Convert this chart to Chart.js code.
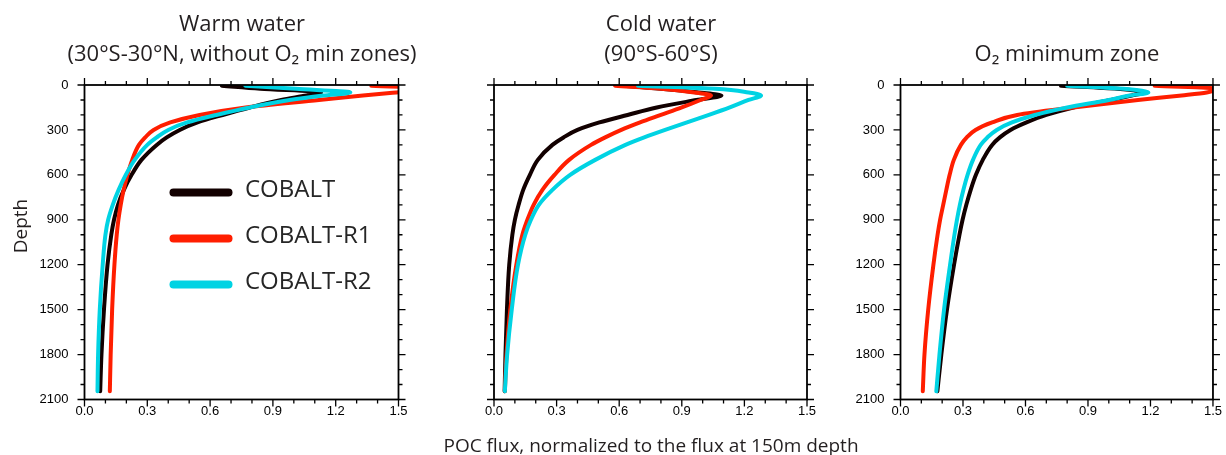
<!DOCTYPE html>
<html>
<head>
<meta charset="utf-8">
<script src="https://cdn.jsdelivr.net/npm/chart.js@4.4.0/dist/chart.umd.min.js"></script>
<style>
html,body{margin:0;padding:0;background:#fff;width:1226px;height:455px;overflow:hidden;}
canvas{position:absolute;top:0;display:block;}
</style>
</head>
<body>
<canvas id="c1" width="440" height="455" style="left:0px"></canvas>
<canvas id="c2" width="440" height="455" style="left:430px"></canvas>
<canvas id="c3" width="396" height="455" style="left:830px"></canvas>
<script>
// ---------- data ----------
const depths = [5, 25, 50, 70, 100, 150, 200, 250, 300, 350, 400, 500, 600, 700, 800, 900, 1000, 1200, 1500, 1800, 2045];

const seriesNames = ['COBALT', 'COBALT-R1', 'COBALT-R2'];

const warmCOBALT = [0.656, 0.84, 1.13, 1.06, 0.94, 0.79, 0.66, 0.54, 0.455, 0.393, 0.345, 0.272, 0.225, 0.188, 0.16, 0.141, 0.128, 0.11, 0.093, 0.081, 0.075];
const warmR1     = [1.37, 1.70, 1.49, 1.33, 1.12, 0.77, 0.55, 0.41, 0.33, 0.29, 0.26, 0.228, 0.205, 0.187, 0.173, 0.162, 0.154, 0.143, 0.132, 0.125, 0.121];
const warmR2     = [0.768, 1.01, 1.27, 1.14, 0.98, 0.79, 0.63, 0.49, 0.40, 0.345, 0.30, 0.24, 0.197, 0.163, 0.135, 0.113, 0.100, 0.087, 0.073, 0.065, 0.062];

const coldCOBALT = [0.62, 0.80, 0.98, 1.09, 0.97, 0.78, 0.64, 0.505, 0.40, 0.333, 0.28, 0.21, 0.172, 0.14, 0.118, 0.10, 0.088, 0.073, 0.062, 0.055, 0.051];
const coldR1     = [0.58, 0.80, 0.96, 1.04, 0.99, 0.90, 0.80, 0.70, 0.61, 0.533, 0.465, 0.36, 0.29, 0.232, 0.19, 0.16, 0.136, 0.107, 0.078, 0.06, 0.052];
const coldR2     = [0.69, 1.06, 1.22, 1.28, 1.22, 1.13, 1.03, 0.925, 0.82, 0.72, 0.63, 0.485, 0.365, 0.28, 0.215, 0.177, 0.15, 0.115, 0.085, 0.063, 0.052];

const omzCOBALT  = [0.77, 1.04, 1.17, 1.11, 1.01, 0.83, 0.70, 0.605, 0.528, 0.477, 0.44, 0.395, 0.362, 0.337, 0.316, 0.298, 0.283, 0.257, 0.223, 0.196, 0.177];
const omzR1      = [1.22, 1.52, 1.47, 1.35, 1.14, 0.83, 0.56, 0.44, 0.36, 0.318, 0.29, 0.256, 0.236, 0.22, 0.205, 0.19, 0.178, 0.158, 0.133, 0.115, 0.107];
const omzR2      = [0.80, 1.07, 1.19, 1.10, 1.00, 0.80, 0.645, 0.535, 0.462, 0.417, 0.385, 0.348, 0.322, 0.302, 0.285, 0.271, 0.259, 0.238, 0.209, 0.187, 0.172];

const xTickValues = [0, 0.3, 0.6, 0.9, 1.2, 1.5];
const yTickValues = [0, 300, 600, 900, 1200, 1500, 1800, 2100];

const panelTitles = [
  ['Warm water', '(30°S-30°N, without O\u2082 min zones)'],
  ['Cold water', '(90°S-60°S)'],
  ['', 'O\u2082 minimum zone']
];
const xAxisTitle = 'POC flux, normalized to the flux at 150m depth';
const yAxisTitle = 'Depth';

// ---------- styles ----------
const COLORS = ['#120000', '#ff1e00', '#00d3e3'];
const DRAW_ORDER = [3, 2, 1];
const TEXT_FONT = '"Open Sans", "Noto Sans", "DejaVu Sans", sans-serif';
const TICK_FONT = '"Liberation Sans", Arial, Helvetica, sans-serif';
const TEXT_COLOR = '#231f20';
const PLOT_TOP = 85, PLOT_BOTTOM = 399.5, CANVAS_H = 455;

const panels = [
  {id: 'c1', left: 0,   width: 440, plotLeft: 84.5,  plotRight: 398.5, yLabels: true,  values: [warmCOBALT, warmR1, warmR2], titleX: 242},
  {id: 'c2', left: 430, width: 440, plotLeft: 494,   plotRight: 807,   yLabels: false, values: [coldCOBALT, coldR1, coldR2], titleX: 661},
  {id: 'c3', left: 830, width: 396, plotLeft: 900.5, plotRight: 1214,  yLabels: true,  values: [omzCOBALT, omzR1, omzR2],   titleX: 1067}
];

// frame with outward major/minor ticks on all four sides
const frameTicks = {
  id: 'frameTicks',
  afterDatasetsDraw(chart) {
    const {ctx, chartArea: a} = chart;
    const xs = chart.scales.x, ys = chart.scales.y;
    ctx.save();
    ctx.strokeStyle = '#000';
    ctx.lineWidth = 1.8;
    ctx.strokeRect(a.left, a.top, a.right - a.left, a.bottom - a.top);
    ctx.lineWidth = 1.3;
    ctx.beginPath();
    for (let i = 0; i <= 15; i++) {
      const px = xs.getPixelForValue(i / 10);
      const L = (i % 3 === 0) ? 7 : 4;
      ctx.moveTo(px, a.bottom); ctx.lineTo(px, a.bottom + L);
      ctx.moveTo(px, a.top); ctx.lineTo(px, a.top - L);
    }
    for (let d = 0; d <= 2100; d += 100) {
      const py = ys.getPixelForValue(d);
      const L = (d % 300 === 0) ? 7 : 4;
      ctx.moveTo(a.left, py); ctx.lineTo(a.left - L, py);
      ctx.moveTo(a.right, py); ctx.lineTo(a.right + L, py);
    }
    ctx.stroke();
    ctx.restore();
  }
};

function textPlugin(items, offset) {
  return {
    id: 'overlayText',
    afterDraw(chart) {
      const ctx = chart.ctx;
      items.forEach(it => {
        ctx.save();
        ctx.font = it.font;
        ctx.fillStyle = it.color || TEXT_COLOR;
        ctx.textAlign = it.align || 'center';
        ctx.textBaseline = 'middle';
        ctx.translate(it.x - offset, it.y);
        if (it.rot) ctx.rotate(it.rot);
        ctx.fillText(it.text, 0, 0);
        ctx.restore();
      });
    }
  };
}

const insetLegend = {
  id: 'insetLegend',
  afterDraw(chart) {
    const ctx = chart.ctx;
    chart.data.datasets.forEach((ds, i) => {
      const y = 192.5 + 46 * i;
      ctx.save();
      ctx.strokeStyle = ds.borderColor;
      ctx.lineWidth = 8;
      ctx.lineCap = 'round';
      ctx.beginPath();
      ctx.moveTo(173.5, y); ctx.lineTo(228.5, y);
      ctx.stroke();
      ctx.fillStyle = '#262626';
      ctx.font = '24px ' + TEXT_FONT;
      ctx.textAlign = 'left';
      ctx.textBaseline = 'middle';
      ctx.fillText(ds.label, 245, y - 2);
      ctx.restore();
    });
  }
};

panels.forEach((p, pi) => {
  const datasets = seriesNames.map((name, k) => ({
    label: name,
    data: depths.map((d, i) => ({x: p.values[k][i], y: d})),
    borderColor: COLORS[k],
    backgroundColor: COLORS[k],
    borderWidth: 4,
    pointRadius: 0,
    pointHoverRadius: 0,
    cubicInterpolationMode: 'monotone',
    borderCapStyle: 'round',
    borderJoinStyle: 'round',
    order: DRAW_ORDER[k]
  }));

  const texts = [];
  panelTitles[pi].forEach((t, li) => {
    if (t) texts.push({text: t, x: p.titleX, y: 25 + 30 * li, font: '22px ' + TEXT_FONT});
  });
  if (pi === 0) texts.push({text: yAxisTitle, x: 22, y: 226, font: '19px ' + TEXT_FONT, rot: -Math.PI / 2});
  if (pi === 1) texts.push({text: xAxisTitle, x: 651, y: 447, font: '19px ' + TEXT_FONT});

  const plugins = [frameTicks, textPlugin(texts, p.left)];
  if (pi === 0) plugins.push(insetLegend);

  new Chart(document.getElementById(p.id), {
    type: 'line',
    data: {datasets},
    plugins,
    options: {
      responsive: false,
      animation: false,
      indexAxis: 'y',
      layout: {padding: {left: 0, top: PLOT_TOP, bottom: 0, right: p.width - (p.plotRight - p.left)}},
      plugins: {legend: {display: false}, tooltip: {enabled: false}, title: {display: false}},
      events: [],
      scales: {
        x: {
          type: 'linear', position: 'bottom', min: 0, max: 1.5,
          afterBuildTicks: s => { s.ticks = xTickValues.map(v => ({value: v})); },
          afterFit: s => { s.height = CANVAS_H - PLOT_BOTTOM; },
          grid: {display: false, drawTicks: false},
          border: {display: false},
          ticks: {
            autoSkip: false, maxRotation: 0, padding: 4, color: '#000',
            font: {family: TICK_FONT, size: 13},
            callback: v => Number(v).toFixed(1)
          }
        },
        y: {
          type: 'linear', position: 'left', reverse: true, min: 0, max: 2100,
          afterBuildTicks: s => { s.ticks = yTickValues.map(v => ({value: v})); },
          afterFit: s => { s.width = p.plotLeft - p.left; },
          grid: {display: false, drawTicks: false},
          border: {display: false},
          ticks: {
            display: p.yLabels, autoSkip: false, padding: 16, color: '#000',
            font: {family: TICK_FONT, size: 13},
            callback: v => String(v)
          }
        }
      }
    }
  });
});
</script>
</body>
</html>
